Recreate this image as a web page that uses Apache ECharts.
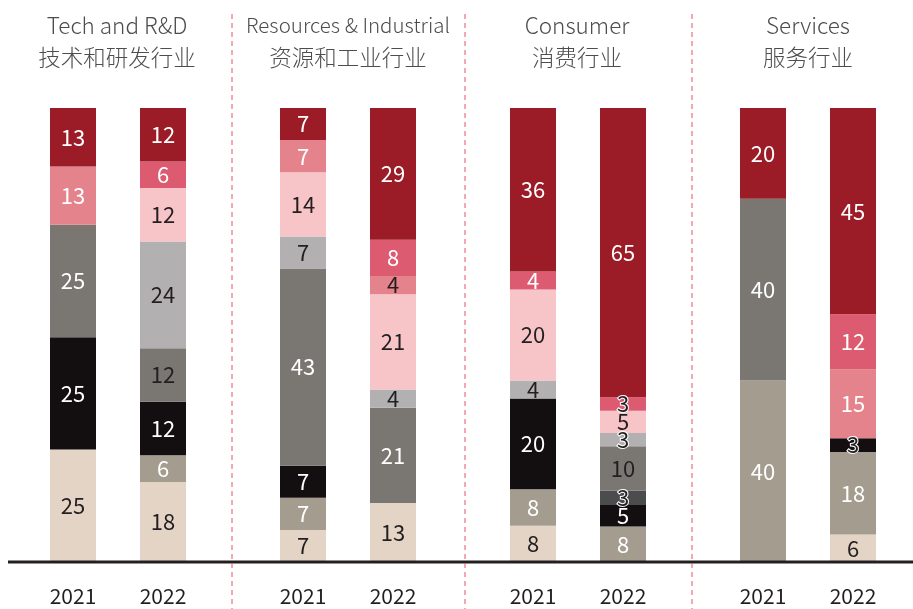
<!DOCTYPE html>
<html>
<head>
<meta charset="utf-8">
<script src="https://cdn.jsdelivr.net/npm/echarts@6/dist/echarts.min.js"></script>
<style>
  html, body { margin: 0; padding: 0; background: #fff; }
  #main { width: 913px; height: 609px; }
</style>
</head>
<body>
<div id="main"></div>
<script>
// groups and years
var groupsEn = ['Tech and R&D', 'Resources & Industrial', 'Consumer', 'Services'];
var groupsZh = ['技术和研发行业', '资源和工业行业', '消费行业', '服务行业'];
var years = ['2021', '2022'];

// segment values, 8 bars: tech21, tech22, res21, res22, con21, con22, ser21, ser22 (null = none)
var beige     = [25, 18, 7, 13, 8, null, null, 6];
var taupe     = [null, 6, 7, null, 8, 8, 40, 18];
var black     = [25, 12, 7, null, 20, 5, null, 3];
var charcoal  = [null, null, null, null, null, 3, null, null];
var darkGray  = [25, 12, 43, 21, null, 10, 40, null];
var lightGray = [null, 24, 7, 4, 4, 3, null, null];
var lightPink = [null, 12, 14, 21, 20, 5, null, null];
var salmon    = [13, null, 7, 4, null, null, null, 15];
var midPink   = [null, 6, null, 8, 4, 3, null, 12];
var darkRed   = [13, 12, 7, 29, 36, 65, 20, 45];

var DARK = '#231f20';
var segments = [
  { name: 'beige', data: beige, color: '#e3d4c5', label: DARK },
  { name: 'taupe', data: taupe, color: '#a39c8f', label: '#fff' },
  { name: 'black', data: black, color: '#130f10', label: '#fff' },
  { name: 'charcoal', data: charcoal, color: '#4b4c4e', label: '#fff' },
  { name: 'darkGray', data: darkGray, color: '#7a7672', label: '#fff', darkAt: [1, 5] },
  { name: 'lightGray', data: lightGray, color: '#b2b0b0', label: DARK },
  { name: 'lightPink', data: lightPink, color: '#f7c4c8', label: DARK },
  { name: 'salmon', data: salmon, color: '#e4838b', label: '#fff', darkAt: [3] },
  { name: 'midPink', data: midPink, color: '#dd5b70', label: '#fff' },
  { name: 'darkRed', data: darkRed, color: '#9b1c26', label: '#fff' }
];

// each bar fills the full height
var totals = years.concat(years, years, years).map(function (_, i) {
  return segments.reduce(function (s, seg) { return s + (seg.data[i] || 0); }, 0);
});

var FONT = '"Noto Sans CJK SC", "Noto Sans", sans-serif';
var grids = [], xAxes = [], yAxes = [], series = [], titles = [];
var centers = [117, 348, 577, 808];

groupsEn.forEach(function (g, gi) {
  grids.push({ left: 28 + 230 * gi, width: 180, top: 108, bottom: 47 });
  xAxes.push({
    type: 'category', gridIndex: gi, data: years,
    axisLine: { show: false }, axisTick: { show: false },
    axisLabel: { color: DARK, fontSize: 21, fontFamily: FONT, margin: 24 }
  });
  yAxes.push({ type: 'value', gridIndex: gi, min: 0, max: 100, show: false });
  // the long English name is set a little tighter in the original
  var en = g.length > 15 ? '{tight|' + g + '}' : '{en|' + g + '}';
  titles.push({
    text: en + '\n{zh|' + groupsZh[gi] + '}',
    left: centers[gi], top: 9, textAlign: 'center', padding: 0,
    textStyle: {
      rich: {
        en: { color: '#4d4d4d', fontSize: 22.5, fontWeight: 300, fontFamily: FONT, lineHeight: 32 },
        tight: { color: '#4d4d4d', fontSize: 20.5, fontWeight: 300, fontFamily: FONT, lineHeight: 32 },
        zh: { color: '#4d4d4d', fontSize: 22.5, fontWeight: 300, fontFamily: FONT, lineHeight: 32 }
      }
    }
  });
  segments.forEach(function (seg) {
    var items = [0, 1].map(function (k) {
      var i = gi * 2 + k;
      var v = seg.data[i];
      if (v == null) return '-';
      var small = v <= 3;
      var dark = seg.darkAt && seg.darkAt.indexOf(i) >= 0;
      return {
        value: v / totals[i] * 100,
        raw: v,
        label: small
          ? { color: DARK, textBorderColor: '#fff', textBorderWidth: 2 }
          : { color: dark ? DARK : seg.label }
      };
    });
    series.push({
      type: 'bar', name: seg.name, stack: 'g' + gi,
      xAxisIndex: gi, yAxisIndex: gi,
      barWidth: 46,
      itemStyle: { color: seg.color },
      label: {
        show: true, position: 'inside', fontSize: 22, fontFamily: FONT,
        formatter: function (p) { return p.data.raw; }
      },
      data: items
    });
  });
});

var graphics = [{
  type: 'line', z: 10,
  shape: { x1: 8, y1: 562, x2: 913, y2: 562 },
  style: { stroke: DARK, lineWidth: 3 }
}];
[232, 465, 692].forEach(function (x) {
  graphics.push({
    type: 'line', z: 10,
    shape: { x1: x, y1: 14, x2: x, y2: 609 },
    style: { stroke: '#e2546b', lineWidth: 1, lineDash: [5, 4] }
  });
});

var chart = echarts.init(document.getElementById('main'));
chart.setOption({
  animation: false,
  title: titles,
  grid: grids,
  xAxis: xAxes,
  yAxis: yAxes,
  series: series,
  graphic: graphics
});
</script>
</body>
</html>
